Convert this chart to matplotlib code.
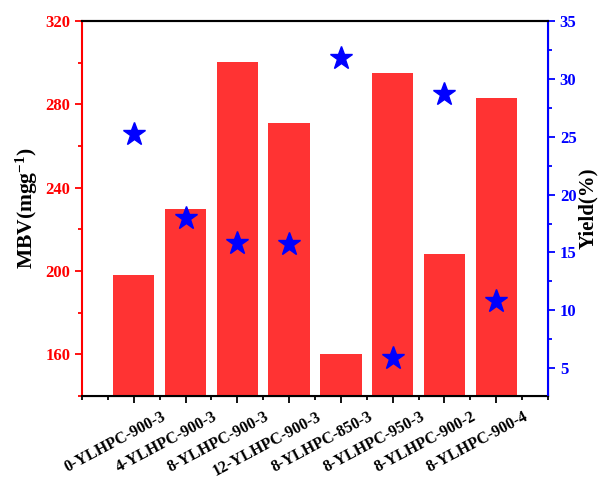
import numpy as np
import matplotlib.pyplot as plt
from matplotlib.ticker import MultipleLocator
from matplotlib.transforms import ScaledTranslation

plt.rcParams['font.family'] = ['Liberation Serif', 'DejaVu Serif']
plt.rcParams['font.weight'] = 'bold'
plt.rcParams['mathtext.fontset'] = 'custom'
plt.rcParams['mathtext.rm'] = 'Liberation Serif:bold'
plt.rcParams['mathtext.default'] = 'rm'

samples = ['0-YLHPC-900-3', '4-YLHPC-900-3', '8-YLHPC-900-3', '12-YLHPC-900-3',
           '8-YLHPC-850-3', '8-YLHPC-950-3', '8-YLHPC-900-2', '8-YLHPC-900-4']
mbv = [198, 230, 300.5, 271, 160, 295, 208, 283]
yield_pct = [25.2, 18.0, 15.8, 15.7, 31.8, 5.9, 28.7, 10.8]

red = '#ff3333'
blue = '#0000ff'

fig = plt.figure(figsize=(6.01, 4.8), dpi=100)
ax = fig.add_axes([0.1364, 0.175, 0.7754, 0.78125])
x = np.arange(1, len(samples) + 1)

ax.bar(x, mbv, width=0.8, color=red, zorder=2)
ax.set_xlim(0, 9)
ax.set_ylim(140, 320)
ax.set_xticks(x)
ax.set_xticklabels([''] * len(samples))
ax.xaxis.set_minor_locator(MultipleLocator(0.5))

# rotated category labels, ends shifted right of the ticks like the original
offset = ScaledTranslation(27 / 100, -13 / 100, fig.dpi_scale_trans)
for xi, name in zip(x, samples):
    ax.text(xi, 0, name, transform=ax.get_xaxis_transform() + offset,
            rotation=28, ha='right', va='top', rotation_mode='anchor',
            fontsize=11.5, fontweight='bold', clip_on=False)

ax.yaxis.set_major_locator(MultipleLocator(40))
ax.yaxis.set_minor_locator(MultipleLocator(20))
ax.tick_params(axis='y', which='both', colors='red', labelsize=12, width=1.3)
ax.tick_params(axis='y', which='major', length=5)
ax.tick_params(axis='y', which='minor', length=3)
ax.tick_params(axis='x', which='major', length=5, width=1.3)
ax.tick_params(axis='x', which='minor', length=3, width=1.3)
for lab in ax.get_yticklabels():
    lab.set_fontweight('bold')
ax.set_ylabel('MBV(mgg$^{-1}$)', fontsize=15.5, fontweight='bold', labelpad=4)

ax.spines['left'].set_color('red')
ax.spines['left'].set_linewidth(1.5)
ax.spines['bottom'].set_linewidth(1.5)
ax.spines['top'].set_linewidth(1.5)

ax2 = ax.twinx()
ax2.plot(x, yield_pct, linestyle='none', marker='*', markersize=17, color=blue, zorder=3)
ax2.set_ylim(2.6, 35)
ax2.set_yticks([5, 10, 15, 20, 25, 30, 35])
ax2.yaxis.set_minor_locator(MultipleLocator(2.5))
ax2.tick_params(axis='y', which='both', colors=blue, labelsize=12, width=1.3)
ax2.tick_params(axis='y', which='major', length=5)
ax2.tick_params(axis='y', which='minor', length=3)
for lab in ax2.get_yticklabels():
    lab.set_fontweight('bold')
ax2.set_ylabel('Yield(%)', fontsize=15, fontweight='bold', labelpad=1)
ax2.spines['right'].set_color(blue)
ax2.spines['right'].set_linewidth(1.5)
ax2.spines['left'].set_visible(False)
ax2.spines['top'].set_linewidth(1.5)

fig.savefig('out.png', dpi=100)
